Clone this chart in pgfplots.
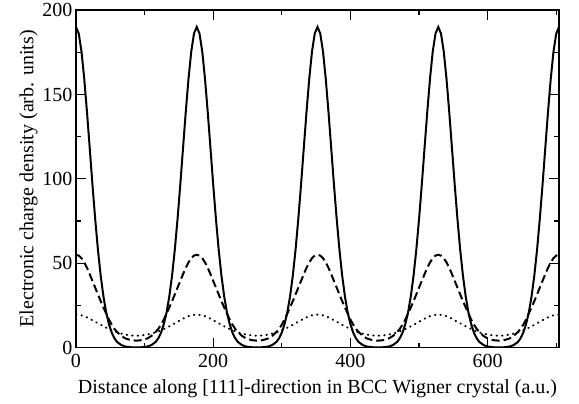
\documentclass[border=0pt]{standalone}
\usepackage{pgfplots}
\pgfplotsset{compat=1.18}
\usepackage{pgfplotstable}
\usepackage{fontspec}
\setmainfont{Liberation Serif}

% x, solid, dashed, dotted
\pgfplotstableread{
x s d t
0 190 55 19.5
4 186.1 54.5 19.4
8 175.5 53 19.1
12 159.4 50.5 18.6
16 139.7 47.3 17.9
20 118.2 43.5 17.1
24 96.5 39.5 16.2
28 76.1 35.5 15.3
32 57.9 31.5 14.4
36 42.6 27.5 13.5
40 30.3 23.8 12.6
44 20.8 20.2 11.8
48 13.9 16.6 11.0
52 8.9 13.6 10.3
56 5.5 11.1 9.6
60 3.3 9.2 9.0
66 1.5 6.9 8.3
72 0.6 5.4 7.7
80 0.2 4.4 7.2
88 0.1 4.1 7.0
96 0.2 4.4 7.2
104 0.6 5.4 7.7
110 1.5 6.9 8.3
116 3.3 9.2 9.0
120 5.5 11.1 9.6
124 8.9 13.6 10.3
128 13.9 16.6 11.0
132 20.8 20.2 11.8
136 30.3 23.8 12.6
140 42.6 27.5 13.5
144 57.9 31.5 14.4
148 76.1 35.5 15.3
152 96.5 39.5 16.2
156 118.2 43.5 17.1
160 139.7 47.3 17.9
164 159.4 50.5 18.6
168 175.5 53 19.1
172 186.1 54.5 19.4
176 190 55 19.5
180 186.1 54.5 19.4
184 175.5 53 19.1
188 159.4 50.5 18.6
192 139.7 47.3 17.9
196 118.2 43.5 17.1
200 96.5 39.5 16.2
204 76.1 35.5 15.3
208 57.9 31.5 14.4
212 42.6 27.5 13.5
216 30.3 23.8 12.6
220 20.8 20.2 11.8
224 13.9 16.6 11.0
228 8.9 13.6 10.3
232 5.5 11.1 9.6
236 3.3 9.2 9.0
242 1.5 6.9 8.3
248 0.6 5.4 7.7
256 0.2 4.4 7.2
264 0.1 4.1 7.0
272 0.2 4.4 7.2
280 0.6 5.4 7.7
286 1.5 6.9 8.3
292 3.3 9.2 9.0
296 5.5 11.1 9.6
300 8.9 13.6 10.3
304 13.9 16.6 11.0
308 20.8 20.2 11.8
312 30.3 23.8 12.6
316 42.6 27.5 13.5
320 57.9 31.5 14.4
324 76.1 35.5 15.3
328 96.5 39.5 16.2
332 118.2 43.5 17.1
336 139.7 47.3 17.9
340 159.4 50.5 18.6
344 175.5 53 19.1
348 186.1 54.5 19.4
352 190 55 19.5
356 186.1 54.5 19.4
360 175.5 53 19.1
364 159.4 50.5 18.6
368 139.7 47.3 17.9
372 118.2 43.5 17.1
376 96.5 39.5 16.2
380 76.1 35.5 15.3
384 57.9 31.5 14.4
388 42.6 27.5 13.5
392 30.3 23.8 12.6
396 20.8 20.2 11.8
400 13.9 16.6 11.0
404 8.9 13.6 10.3
408 5.5 11.1 9.6
412 3.3 9.2 9.0
418 1.5 6.9 8.3
424 0.6 5.4 7.7
432 0.2 4.4 7.2
440 0.1 4.1 7.0
448 0.2 4.4 7.2
456 0.6 5.4 7.7
462 1.5 6.9 8.3
468 3.3 9.2 9.0
472 5.5 11.1 9.6
476 8.9 13.6 10.3
480 13.9 16.6 11.0
484 20.8 20.2 11.8
488 30.3 23.8 12.6
492 42.6 27.5 13.5
496 57.9 31.5 14.4
500 76.1 35.5 15.3
504 96.5 39.5 16.2
508 118.2 43.5 17.1
512 139.7 47.3 17.9
516 159.4 50.5 18.6
520 175.5 53 19.1
524 186.1 54.5 19.4
528 190 55 19.5
532 186.1 54.5 19.4
536 175.5 53 19.1
540 159.4 50.5 18.6
544 139.7 47.3 17.9
548 118.2 43.5 17.1
552 96.5 39.5 16.2
556 76.1 35.5 15.3
560 57.9 31.5 14.4
564 42.6 27.5 13.5
568 30.3 23.8 12.6
572 20.8 20.2 11.8
576 13.9 16.6 11.0
580 8.9 13.6 10.3
584 5.5 11.1 9.6
588 3.3 9.2 9.0
594 1.5 6.9 8.3
600 0.6 5.4 7.7
608 0.2 4.4 7.2
616 0.1 4.1 7.0
624 0.2 4.4 7.2
632 0.6 5.4 7.7
638 1.5 6.9 8.3
644 3.3 9.2 9.0
648 5.5 11.1 9.6
652 8.9 13.6 10.3
656 13.9 16.6 11.0
660 20.8 20.2 11.8
664 30.3 23.8 12.6
668 42.6 27.5 13.5
672 57.9 31.5 14.4
676 76.1 35.5 15.3
680 96.5 39.5 16.2
684 118.2 43.5 17.1
688 139.7 47.3 17.9
692 159.4 50.5 18.6
696 175.5 53 19.1
700 186.1 54.5 19.4
704 190 55 19.5
}\density

\begin{document}
\begin{tikzpicture}
\begin{axis}[
    scale only axis,
    width=483pt, height=337.5pt,
    xmin=0, xmax=704,
    ymin=0, ymax=200,
    xtick={0,200,400,600},
    minor xtick={100,300,500,700},
    ytick={0,50,100,150,200},
    minor ytick={25,75,125,175},
    tick align=inside,
    major tick length=10pt,
    minor tick length=5pt,
    every tick/.style={black, line width=1.2pt},
    axis line style={line width=1.8pt},
    /pgf/number format/assume math mode=true,
    tick label style={font=\fontsize{20}{22}\selectfont},
    label style={font=\fontsize{20}{22}\selectfont},
    xticklabel style={yshift=-3pt},
    xlabel style={yshift=-5pt},
    ylabel style={yshift=-2pt},
    xlabel={Distance along [111]-direction in BCC Wigner crystal (a.u.)},
    ylabel={Electronic charge density (arb. units)},
    clip=true,
]
\addplot[black, line width=2pt] table[x=x, y=s] {\density};
\addplot[black, line width=2pt, dash pattern=on 8pt off 4pt] table[x=x, y=d] {\density};
\addplot[black, line width=2pt, line cap=round, dash pattern=on 0.5pt off 5pt] table[x=x, y=t] {\density};
\coordinate (sw) at (rel axis cs:0,0);
\end{axis}
\path (sw) ++(-76pt,-56pt) rectangle ++(579pt,403pt);
\end{tikzpicture}
\end{document}
